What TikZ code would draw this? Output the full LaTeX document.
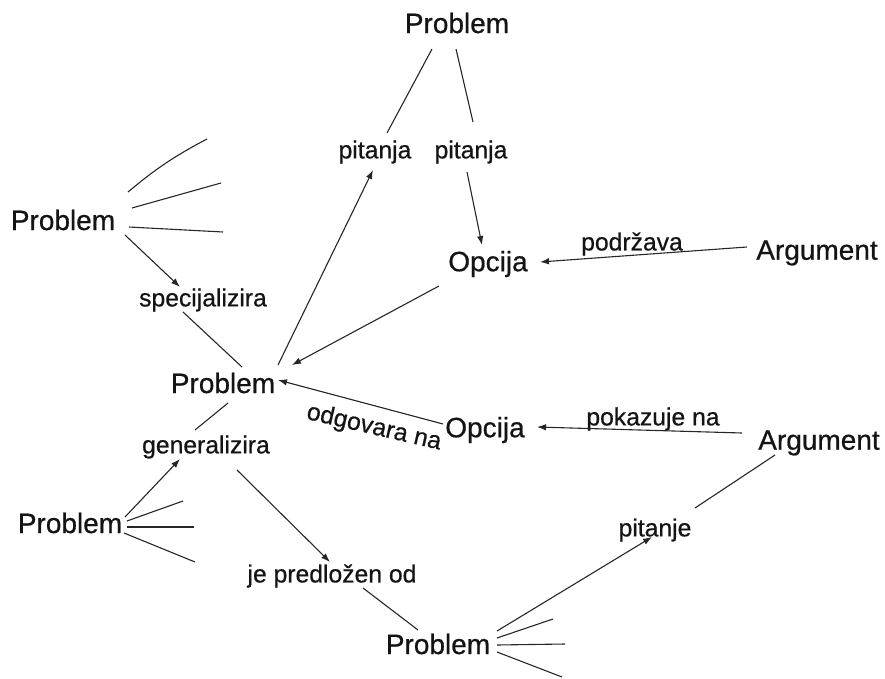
\documentclass[tikz,border=0pt]{standalone}
\usepackage{fontspec}
\setmainfont{Liberation Sans}[FakeBold=0.6]
\newfontfamily\diagramfont{Liberation Sans}[AutoFakeBold=0.6]
\usetikzlibrary{arrows.meta,calc}
\begin{document}
\begin{tikzpicture}[x=1pt,y=-1pt,
  concept/.style={inner sep=0pt,text=black!92,font=\diagramfont\bfseries\fontsize{28}{30}\selectfont},
  relation/.style={inner sep=0pt,text=black!92,font=\diagramfont\bfseries\fontsize{24.7}{27}\selectfont},
  link/.style={draw=black!85,line width=1.1pt},
  arrowlink/.style={link,-{Latex[length=9pt,width=6.5pt]}}]
\useasboundingbox (0,0) rectangle (885,679);

% concepts
\node[concept] (ptop) at (457,23) {Problem};
\node[concept] (pl)   at (63,220) {Problem};
\node[concept] (pc)   at (223,383) {Problem};
\node[concept] (pll)  at (70,523) {Problem};
\node[concept] (pb)   at (438,644) {Problem};
\node[concept] (opc1) at (488,264) {Opcija};
\node[concept] (opc2) at (485,430) {Opcija};
\node[concept] (arg1) at (817,253) {Argument};
\node[concept] (arg2) at (819,443) {Argument};

% relations
\node[relation] (pit1) at (375,152) {pitanja};
\node[relation] (pit2) at (471,152) {pitanja};
\node[relation] (spec) at (203,300) {specijalizira};
\node[relation] (podr) at (632,244) {podržava};
\node[relation,rotate=-13] (odg) at (374,428) {odgovara na};
\node[relation] (pok)  at (653,419) {pokazuje na};
\node[relation] (gen)  at (206,447) {generalizira};
\node[relation] (pitj) at (655,530) {pitanje};
\node[relation] (jpo)  at (332,576) {je predložen od};

% links between concepts and relations
\draw[link] ($(ptop)+(-25,26)$) -- ($(pit1)+(12,-19)$);
\draw[link] ($(ptop)+(-1,26)$) -- ($(pit2)+(2,-30)$);
\draw[arrowlink] ($(pit2)+(-4,20)$) -- ($(opc1)+(-6,-19)$);
\draw[arrowlink] ($(pc)+(55,-18)$) -- ($(pit1)+(-2,18)$);
\draw[arrowlink] ($(opc1)+(-49,22)$) -- ($(pc)+(69,-18)$);
\draw[arrowlink] ($(pl)+(62,15)$) -- ($(spec)+(-23,-13)$);
\draw[link] ($(spec)+(-20,12)$) -- ($(pc)+(19,-16)$);
\draw[arrowlink] ($(arg1)+(-70,-6)$) -- ($(opc1)+(52,-2)$);
\draw[arrowlink] ($(opc2)+(-42,-6)$) -- ($(pc)+(55,-3)$);
\draw[arrowlink] ($(arg2)+(-77,-10)$) -- ($(opc2)+(52,-3)$);
\draw[link] ($(arg2)+(-44,12)$) -- ($(pitj)+(40,-22)$);
\draw[arrowlink] ($(pb)+(59,-13)$) -- ($(pitj)+(-3,7)$);
\draw[link] ($(pc)+(5,20)$) -- ($(gen)+(-11,-17)$);
\draw[arrowlink] ($(pll)+(55,-6)$) -- ($(gen)+(-26,12)$);
\draw[arrowlink] ($(gen)+(31,23)$) -- ($(jpo)+(-2,-14)$);
\draw[link] ($(jpo)+(31,12)$) -- ($(pb)+(-20,-14)$);

% open-ended stubs
\draw[link] ($(pl)+(65,-28)$) to[bend left=6] ++(79,-53);
\draw[link] ($(pl)+(69,-12)$) -- ++(89,-25);
\draw[link] ($(pl)+(66,7)$) -- ++(94,5);
\draw[link] ($(pll)+(57,-2)$) -- ++(56,-20);
\draw[link] ($(pll)+(57,4)$) -- ++(67,0);
\draw[link] ($(pll)+(54,10)$) -- ++(71,29);
\draw[link] ($(pb)+(59,-6)$) -- ++(56,-19);
\draw[link] ($(pb)+(59,1)$) -- ++(68,-1);
\draw[link] ($(pb)+(59,8)$) -- ++(65,25);
\end{tikzpicture}
\end{document}
